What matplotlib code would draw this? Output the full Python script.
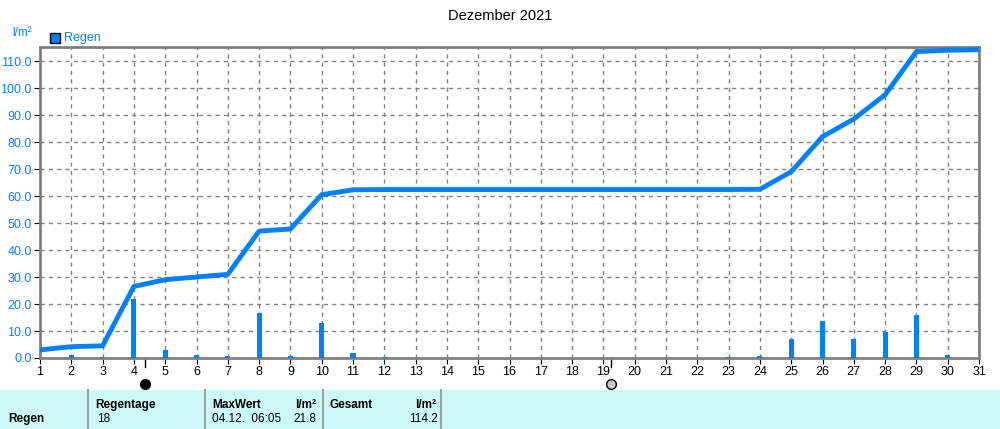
import numpy as np
import matplotlib
matplotlib.use("Agg")
import matplotlib.pyplot as plt
from matplotlib.patches import Rectangle

# daily rain (l/m2), bar drawn at day position
days = list(range(1, 32))
rain = [0, 1.0, 0.5, 21.8, 3.0, 1.0, 0.8, 16.5, 0.8, 12.8, 2.0, 0.2, 0, 0, 0, 0,
        0, 0, 0, 0, 0, 0, 0.3, 0.7, 7.0, 13.7, 7.2, 9.7, 16.0, 1.0, 0]
# cumulative sum curve
cum = [3.0, 4.2, 4.5, 26.5, 29.0, 30.0, 31.0, 47.0, 47.8, 60.5, 62.3, 62.4, 62.4, 62.4,
       62.4, 62.4, 62.4, 62.4, 62.4, 62.4, 62.4, 62.4, 62.4, 62.5, 69.0, 82.0, 88.5,
       97.5, 113.5, 114.0, 114.2]
moon_new = 4.35
moon_full = 19.25

blue = '#0080ff'
grey = '#808080'

plt.rcParams['font.family'] = ['Liberation Sans', 'DejaVu Sans']
fig = plt.figure(figsize=(10, 4.29), dpi=100)
ax = fig.add_axes([0.04, 1 - 358 / 429, 0.939, (358 - 47) / 429])

ax.bar(days, rain, width=0.16, color=blue, zorder=3)
ax.plot(days, cum, color=blue, lw=3.5, zorder=4, solid_capstyle='butt')

ax.set_xlim(1, 31)
ax.set_ylim(0, 115.2)
ax.set_xticks(days)
ax.set_yticks(np.arange(0, 111, 10))
ax.set_yticklabels(['%.1f' % v for v in np.arange(0, 111, 10)], color=blue)
ax.tick_params(axis='both', labelsize=9, length=4, color='black', pad=2)
ax.grid(True, ls=(0, (3, 3)), color=grey, lw=1)
for s in ax.spines.values():
    s.set_color(grey)
    s.set_linewidth(2)

# moon phase markers under the x axis
for x, fc in [(moon_new, 'black'), (moon_full, '#c8c8c8')]:
    ax.plot([x, x], [0, -3.5], color='black', lw=1, clip_on=False)
    ax.plot(x, -9.5, 'o', ms=7, mfc=fc, mec='black', mew=1, clip_on=False)

fig.text(0.5, 1 - 16 / 429, 'Dezember 2021', ha='center', va='center', fontsize=10.5)
fig.text(0.012, 1 - 33 / 429, 'l/m²', color=blue, fontsize=8.5, va='center')
fig.patches.append(Rectangle((0.050, 1 - 43 / 429), 0.010, 10 / 429, transform=fig.transFigure,
                             fc=blue, ec='black', lw=1))
fig.text(0.064, 1 - 38 / 429, 'Regen', color=blue, fontsize=9, va='center')

# summary table
fig.patches.append(Rectangle((0, 0), 1, 39 / 429, transform=fig.transFigure,
                             fc='#ccfaf7', ec='none'))
for xd in [88, 205, 323, 441]:
    fig.add_artist(plt.Line2D([xd / 1000, xd / 1000], [0, 39 / 429],
                              transform=fig.transFigure, color='#a0a0a0', lw=1.5))
y1 = 1 - 405 / 429
y2 = 1 - 419 / 429
fs = 8.5
fig.text(0.008, y2, 'Regen', fontsize=fs, weight='bold', va='center')
fig.text(0.095, y1, 'Regentage', fontsize=fs, weight='bold', va='center')
fig.text(0.097, y2, '18', fontsize=fs, va='center')
fig.text(0.212, y1, 'MaxWert', fontsize=fs, weight='bold', va='center')
fig.text(0.316, y1, 'l/m²', fontsize=fs, weight='bold', va='center', ha='right')
fig.text(0.212, y2, '04.12.  06:05', fontsize=fs, va='center')
fig.text(0.316, y2, '21.8', fontsize=fs, va='center', ha='right')
fig.text(0.330, y1, 'Gesamt', fontsize=fs, weight='bold', va='center')
fig.text(0.436, y1, 'l/m²', fontsize=fs, weight='bold', va='center', ha='right')
fig.text(0.438, y2, '114.2', fontsize=fs, va='center', ha='right')

fig.savefig('out.png', dpi=100)
